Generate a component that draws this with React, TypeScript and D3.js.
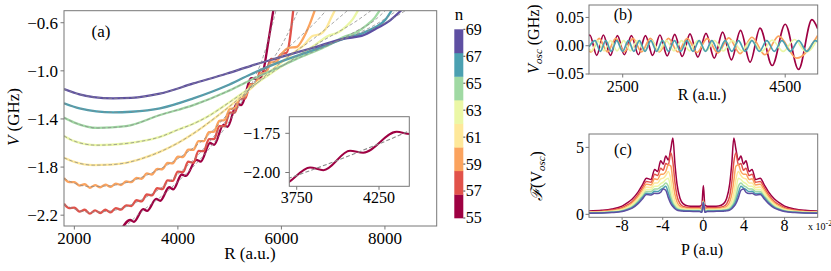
import * as d3 from "d3";

type Pt = [number, number];

// ---------- panel (a): V(R) per n ----------
const nValues = [55, 57, 59, 61, 63, 65, 67, 69];

const solid55: Pt[] = [[2880, -2.34], [3080, -2.24], [3150, -2.255], [3330, -2.15], [3405, -2.165], [3581, -2.065], [3660, -2.08], [3831, -1.968], [3912, -1.985], [4074, -1.862], [4154, -1.874], [4357, -1.74], [4440, -1.755], [4620, -1.6], [4700, -1.615], [4880, -1.45], [4960, -1.465], [5140, -1.27], [5220, -1.285], [5420, -1.06], [5560, -1.075], [5650, -1.0], [5750, -0.75], [5850, -0.48]];
const solid57: Pt[] = [[1800, -2.105], [1900, -2.142], [2000, -2.138], [2100, -2.17], [2200, -2.155], [2300, -2.187], [2400, -2.16], [2500, -2.182], [2600, -2.155], [2700, -2.177], [2800, -2.141], [2900, -2.154], [3000, -2.118], [3100, -2.124], [3200, -2.076], [3300, -2.085], [3400, -2.028], [3500, -2.036], [3600, -1.976], [3700, -1.984], [3800, -1.91], [3900, -1.915], [4000, -1.838], [4100, -1.842], [4200, -1.756], [4300, -1.764], [4400, -1.666], [4500, -1.668], [4600, -1.568], [4700, -1.568], [4800, -1.46], [4900, -1.46], [5000, -1.348], [5100, -1.348], [5200, -1.23], [5300, -1.23], [5400, -1.11], [5500, -1.11], [5600, -0.99], [5700, -1.0], [5800, -0.9], [5900, -0.905], [6000, -0.86], [6100, -0.85], [6230, -0.49]];
const solid59: Pt[] = [[1800, -1.89], [1900, -1.925], [2000, -1.925], [2100, -1.954], [2200, -1.943], [2300, -1.972], [2400, -1.95], [2500, -1.968], [2600, -1.946], [2700, -1.965], [2800, -1.937], [2900, -1.949], [3000, -1.92], [3100, -1.925], [3200, -1.89], [3300, -1.897], [3400, -1.853], [3500, -1.862], [3600, -1.815], [3700, -1.818], [3800, -1.765], [3900, -1.77], [4000, -1.714], [4100, -1.717], [4200, -1.655], [4300, -1.657], [4400, -1.585], [4500, -1.585], [4600, -1.51], [4700, -1.505], [4800, -1.415], [4900, -1.41], [5000, -1.32], [5100, -1.31], [5200, -1.22], [5300, -1.21], [5400, -1.12], [5500, -1.11], [5600, -1.023], [5700, -1.017], [5800, -0.93], [5900, -0.925], [6000, -0.86], [6130, -0.81], [6300, -0.8], [6420, -0.73], [6540, -0.62], [6650, -0.49]];
const solid61: Pt[] = [[1800, -1.723], [2000, -1.757], [2370, -1.784], [2700, -1.78], [3000, -1.765], [3300, -1.73], [3650, -1.674], [4000, -1.6], [4300, -1.521], [4750, -1.38], [5100, -1.26], [5400, -1.15], [5800, -1.0], [6200, -0.86], [6450, -0.78], [6600, -0.71], [6750, -0.695], [6860, -0.65], [6950, -0.57], [7040, -0.49]];
const solid63: Pt[] = [[1800, -1.541], [2000, -1.585], [2430, -1.618], [3000, -1.604], [3300, -1.585], [3655, -1.549], [4000, -1.49], [4300, -1.44], [4560, -1.384], [5000, -1.26], [5400, -1.14], [5800, -1.02], [6200, -0.91], [6600, -0.8], [6900, -0.71], [7100, -0.68], [7250, -0.63], [7380, -0.57], [7490, -0.49]];
const solid65: Pt[] = [[1800, -1.389], [2000, -1.43], [2450, -1.475], [3000, -1.46], [3655, -1.367], [4300, -1.285], [4940, -1.174], [5400, -1.078], [5900, -0.98], [6400, -0.88], [6900, -0.79], [7200, -0.72], [7450, -0.68], [7650, -0.62], [7800, -0.56], [7910, -0.49]];
const solid67: Pt[] = [[1800, -1.27], [2100, -1.312], [2750, -1.345], [3100, -1.34], [3655, -1.312], [4300, -1.229], [4940, -1.124], [5400, -1.03], [5950, -0.93], [6600, -0.83], [7230, -0.73], [7550, -0.69], [7800, -0.64], [8000, -0.58], [8140, -0.49]];
const solid69: Pt[] = [[1800, -1.152], [2100, -1.196], [2370, -1.218], [2750, -1.229], [3100, -1.225], [3650, -1.19], [4300, -1.105], [4950, -1.022], [5400, -0.96], [5950, -0.89], [6600, -0.81], [7230, -0.73], [7550, -0.71], [7870, -0.64], [8100, -0.58], [8330, -0.49]];

const dashed55: Pt[] = [[2880, -2.34], [3300, -2.17], [3705, -2.035], [4100, -1.88], [4432, -1.735], [4800, -1.54], [5100, -1.35], [5400, -1.13], [5650, -0.88], [5900, -0.49]];
const dashed57: Pt[] = [[1800, -2.11], [2000, -2.15], [2300, -2.175], [2700, -2.165], [3000, -2.13], [3300, -2.07], [3655, -1.98], [4000, -1.86], [4300, -1.74], [4650, -1.57], [4975, -1.39], [5300, -1.2], [5600, -1.02], [5900, -0.86], [6100, -0.71], [6330, -0.49]];
const dashed59: Pt[] = [[1800, -1.894], [2000, -1.935], [2300, -1.962], [2700, -1.955], [3000, -1.93], [3300, -1.885], [3655, -1.815], [4000, -1.73], [4300, -1.64], [4600, -1.53], [4878, -1.4], [5200, -1.24], [5500, -1.09], [5800, -0.95], [6100, -0.82], [6400, -0.7], [6650, -0.6], [6880, -0.49]];
const dashed61: Pt[] = [[1800, -1.723], [2000, -1.757], [2370, -1.784], [2700, -1.78], [3000, -1.765], [3300, -1.73], [3650, -1.674], [4000, -1.6], [4300, -1.521], [4750, -1.38], [5100, -1.26], [5400, -1.15], [5800, -1.0], [6200, -0.86], [6600, -0.74], [7000, -0.6], [7300, -0.49]];
const dashed63: Pt[] = [[1800, -1.541], [2000, -1.585], [2430, -1.618], [3000, -1.604], [3300, -1.585], [3655, -1.549], [4000, -1.49], [4300, -1.44], [4560, -1.384], [5000, -1.26], [5400, -1.14], [5800, -1.02], [6200, -0.91], [6600, -0.8], [7000, -0.7], [7400, -0.6], [7760, -0.49]];
const dashed65: Pt[] = [[1800, -1.389], [2000, -1.43], [2450, -1.475], [3000, -1.46], [3655, -1.367], [4300, -1.285], [4940, -1.174], [5400, -1.078], [5900, -0.98], [6400, -0.88], [6900, -0.79], [7400, -0.68], [7800, -0.58], [8030, -0.49]];
const dashed67: Pt[] = [[1800, -1.27], [2100, -1.312], [2750, -1.345], [3100, -1.34], [3655, -1.312], [4300, -1.229], [4940, -1.124], [5400, -1.03], [5950, -0.93], [6600, -0.83], [7230, -0.73], [7800, -0.62], [8260, -0.49]];
const dashed69: Pt[] = [[1800, -1.152], [2100, -1.196], [2370, -1.218], [2750, -1.229], [3100, -1.225], [3650, -1.19], [4300, -1.105], [4950, -1.022], [5400, -0.96], [5950, -0.89], [6600, -0.81], [7230, -0.73], [7870, -0.63], [8430, -0.49]];

const solidCurves = [solid55, solid57, solid59, solid61, solid63, solid65, solid67, solid69];
const dashedCurves = [dashed55, dashed57, dashed59, dashed61, dashed63, dashed65, dashed67, dashed69];

const aYTicks = [-0.6, -1.0, -1.4, -1.8, -2.2];
const aXTicks = [2000, 4000, 6000, 8000];
const insetYTicks = [-1.75, -2.0];
const insetXTicks = [3750, 4250];
const cbTicks = [55, 57, 59, 61, 63, 65, 67, 69];

// ---------- panel (b): V_osc(R) for n = 55, 59, 63, 67 ----------
const oscN = [55, 59, 63, 67];
const osc55: Pt[] = [[2085, 0.017], [2095, 0.019], [2180, -0.017], [2262, 0.019], [2348, -0.017], [2435, 0.018], [2520, -0.016], [2607, 0.018], [2693, -0.016], [2780, 0.018], [2868, -0.017], [2958, 0.019], [3048, -0.018], [3140, 0.02], [3233, -0.019], [3328, 0.021], [3425, -0.02], [3525, 0.022], [3627, -0.022], [3730, 0.024], [3838, -0.025], [3950, 0.027], [4068, -0.029], [4190, 0.031], [4340, -0.035], [4500, 0.038], [4664, -0.042], [4829, 0.046], [4900, 0.03]];
const osc59: Pt[] = [[2085, -0.009], [2110, -0.011], [2210, 0.013], [2312, -0.011], [2415, 0.013], [2520, -0.011], [2625, 0.013], [2732, -0.011], [2840, 0.013], [2950, -0.011], [3063, 0.013], [3178, -0.011], [3295, 0.013], [3415, -0.012], [3540, 0.013], [3670, -0.013], [3805, 0.014], [3945, -0.014], [4090, 0.015], [4250, -0.016], [4420, 0.017], [4640, -0.022], [4900, 0.018]];
const osc63: Pt[] = [[2085, -0.006], [2115, -0.009], [2192, 0.009], [2270, -0.009], [2350, 0.009], [2430, -0.009], [2512, 0.009], [2595, -0.009], [2680, 0.009], [2767, -0.009], [2855, 0.009], [2945, -0.009], [3037, 0.009], [3130, -0.009], [3225, 0.009], [3323, -0.009], [3423, 0.009], [3525, -0.009], [3630, 0.009], [3738, -0.009], [3850, 0.009], [3965, -0.009], [4085, 0.01], [4210, -0.01], [4340, 0.01], [4475, -0.01], [4615, 0.011], [4760, -0.011], [4900, 0.012]];
const osc67: Pt[] = [[2085, -0.002], [2159, 0.009], [2225, -0.01], [2291, 0.009], [2358, -0.01], [2426, 0.009], [2498, -0.01], [2570, 0.009], [2637, -0.01], [2705, 0.009], [2775, -0.01], [2845, 0.009], [2917, -0.01], [2989, 0.009], [3063, -0.01], [3137, 0.009], [3213, -0.01], [3289, 0.009], [3365, -0.01], [3441, 0.009], [3519, -0.01], [3597, 0.009], [3679, -0.01], [3761, 0.009], [3843, -0.01], [3925, 0.009], [4007, -0.01], [4090, 0.009], [4182, -0.01], [4274, 0.009], [4366, -0.01], [4459, 0.009], [4562, -0.01], [4665, 0.009], [4767, -0.01], [4870, 0.009], [4900, 0.007]];
const oscCurves = [osc55, osc59, osc63, osc67];
const bYTicks = [-0.05, 0, 0.05];
const bYLabels = ["\u22120.05", "0.00", "0.05"];
const bXTicks = [2500, 4500];

// ---------- panel (c): spectrum, half profile (P >= 0, units of 1e-2) ----------
const pHalf = [0, 0.15, 0.4, 1, 1.5, 2, 2.3, 2.6, 2.8, 3.0, 3.2, 3.45, 3.7, 3.95, 4.2, 4.5, 4.8, 5.15, 5.6, 6.0, 6.4, 7.0, 7.5, 8.0, 9.0, 10.0, 11.3];
const spec55 = [2.15, 0.7, 0.6, 0.6, 0.62, 0.8, 1.2, 2.3, 3.8, 5.7, 4.9, 4.05, 4.35, 3.75, 4.0, 3.2, 3.35, 2.6, 2.7, 2.2, 1.7, 1.15, 0.85, 0.62, 0.4, 0.3, 0.25];
const spec57 = [1.05, 0.45, 0.5, 0.5, 0.52, 0.6, 0.8, 1.4, 2.4, 3.9, 4.6, 3.7, 3.8, 3.3, 3.45, 2.9, 3.0, 2.4, 2.45, 2.0, 1.5, 0.95, 0.7, 0.5, 0.32, 0.24, 0.2];
const spec59 = [1.0, 0.35, 0.42, 0.42, 0.44, 0.5, 0.6, 0.95, 1.5, 2.5, 3.6, 3.7, 3.2, 3.0, 3.0, 2.6, 2.65, 2.2, 2.25, 1.8, 1.35, 0.85, 0.6, 0.42, 0.27, 0.2, 0.17];
const spec61 = [0.98, 0.3, 0.36, 0.36, 0.38, 0.42, 0.48, 0.7, 1.0, 1.6, 2.6, 3.2, 2.9, 2.7, 2.65, 2.35, 2.35, 2.0, 2.05, 1.65, 1.2, 0.75, 0.52, 0.36, 0.23, 0.17, 0.15];
const spec63 = [0.95, 0.25, 0.32, 0.32, 0.33, 0.36, 0.4, 0.55, 0.75, 1.1, 1.8, 2.7, 2.6, 2.4, 2.3, 2.1, 2.1, 1.85, 1.85, 1.5, 1.1, 0.65, 0.45, 0.31, 0.2, 0.15, 0.13];
const spec65 = [0.93, 0.2, 0.28, 0.28, 0.29, 0.31, 0.34, 0.45, 0.6, 0.85, 1.3, 2.1, 2.35, 2.15, 2.05, 1.9, 1.9, 1.7, 1.7, 1.35, 1.0, 0.58, 0.4, 0.27, 0.17, 0.13, 0.11];
const spec67 = [0.9, 0.18, 0.25, 0.25, 0.26, 0.28, 0.3, 0.38, 0.5, 0.7, 1.0, 1.6, 2.1, 1.95, 1.85, 1.7, 1.72, 1.55, 1.58, 1.25, 0.9, 0.52, 0.35, 0.24, 0.15, 0.11, 0.1];
const spec69 = [0.88, 0.15, 0.22, 0.22, 0.23, 0.24, 0.26, 0.32, 0.42, 0.58, 0.8, 1.25, 1.8, 1.9, 1.65, 1.55, 1.58, 1.45, 1.48, 1.15, 0.82, 0.47, 0.32, 0.21, 0.13, 0.1, 0.09];
const specCurves = [spec55, spec57, spec59, spec61, spec63, spec65, spec67, spec69];
const cYTicks = [0, 5];
const cXTicks = [-8, -4, 0, 4, 8];
const cXLabels = ["-8", "-4", "0", "4", "8"];

// ---------- layout ----------
const FONT = "'Liberation Serif', 'DejaVu Serif', serif";
const AXIS = "#777";
const DASH = "#8a8a8a";
const colorOf = (n: number) => d3.interpolateSpectral((n - 55) / 14);
const minus = (s: string) => s.replace("-", "\u2212");

const pA = { l: 64, r: 436.7, t: 10.7, b: 226 };
const pI = { l: 289.3, r: 409.3, t: 116.7, b: 186.3 };
const pB = { l: 589, r: 817.7, t: 5, b: 74 };
const pC = { l: 589, r: 817.7, t: 134, b: 217.3 };
const cb = { l: 454.3, r: 463.3, t: 29.3, b: 218 };

const xA = d3.scaleLinear().domain([1800, 9000]).range([pA.l, pA.r]);
const yA = d3.scaleLinear().domain([-2.29, -0.5]).range([pA.b, pA.t]);
const xI = d3.scaleLinear().domain([3705, 4434]).range([pI.l, pI.r]);
const yI = d3.scaleLinear().domain([-2.088, -1.644]).range([pI.b, pI.t]);
const xB = d3.scaleLinear().domain([2085, 4900]).range([pB.l, pB.r]);
const yB = d3.scaleLinear().domain([-0.05, 0.072]).range([pB.b, pB.t]);
const xC = d3.scaleLinear().domain([-11.26, 11.26]).range([pC.l, pC.r]);
const yC = d3.scaleLinear().domain([-0.22, 6]).range([pC.b, pC.t]);
const yCb = d3.scaleLinear().domain([55, 69]).range([cb.b, cb.t]);

const mkLine = (x: d3.ScaleLinear<number, number>, y: d3.ScaleLinear<number, number>) =>
  d3.line<Pt>().x((d) => x(d[0])).y((d) => y(d[1])).curve(d3.curveMonotoneX);

const lineA = mkLine(xA, yA);
const lineI = mkLine(xI, yI);
const lineB = mkLine(xB, yB);
const lineC = mkLine(xC, yC);

const mirror = (vals: number[]): Pt[] => {
  const neg: Pt[] = pHalf.slice(1).map((p, i) => [-p, vals[i + 1]] as Pt).reverse();
  const pos: Pt[] = pHalf.map((p, i) => [p, vals[i]] as Pt);
  return [...neg, ...pos];
};

const Frame = ({ p }: { p: { l: number; r: number; t: number; b: number } }) => (
  <rect x={p.l} y={p.t} width={p.r - p.l} height={p.b - p.t} fill="none" stroke={AXIS} strokeWidth={1} />
);

const LeftTicks = ({ scale, values, labels, x, size, gap = 6, len = 3.5 }: any) => (
  <g>
    {values.map((v: number, i: number) => (
      <g key={i}>
        <line x1={x - len} x2={x} y1={scale(v)} y2={scale(v)} stroke={AXIS} />
        <text x={x - gap} y={scale(v)} dy="0.34em" textAnchor="end" fontSize={size}>{labels[i]}</text>
      </g>
    ))}
  </g>
);

const BottomTicks = ({ scale, values, labels, y, size, off, len = 3.5 }: any) => (
  <g>
    {values.map((v: number, i: number) => (
      <g key={i}>
        <line x1={scale(v)} x2={scale(v)} y1={y} y2={y + len} stroke={AXIS} />
        <text x={scale(v)} y={y + off} textAnchor="middle" fontSize={size}>{labels[i]}</text>
      </g>
    ))}
  </g>
);

export default function App() {
  return (
    <svg width={831} height={271} style={{ position: "absolute", left: 0, top: 0, background: "#fff" }} fontFamily={FONT}>
      <defs>
        <clipPath id="clipA"><rect x={pA.l} y={pA.t} width={pA.r - pA.l} height={pA.b - pA.t} /></clipPath>
        <clipPath id="clipI"><rect x={pI.l} y={pI.t} width={pI.r - pI.l} height={pI.b - pI.t} /></clipPath>
        <clipPath id="clipB"><rect x={pB.l} y={pB.t} width={pB.r - pB.l} height={pB.b - pB.t} /></clipPath>
        <clipPath id="clipC"><rect x={pC.l} y={pC.t} width={pC.r - pC.l} height={pC.b - pC.t} /></clipPath>
      </defs>
      <rect width={831} height={271} fill="#fff" />

      {/* panel (a) */}
      <g clipPath="url(#clipA)">
        {solidCurves.map((c, i) => (
          <path key={i} d={lineA(c) ?? ""} fill="none" stroke={colorOf(nValues[i])} strokeWidth={2.3} />
        ))}
        {dashedCurves.map((c, i) => (
          <path key={i} d={lineA(c) ?? ""} fill="none" stroke={DASH} strokeOpacity={0.85} strokeWidth={0.9} strokeDasharray="3.5,2.2" />
        ))}
      </g>
      <Frame p={pA} />
      <LeftTicks scale={yA} values={aYTicks} labels={aYTicks.map((v) => minus(v.toFixed(1)))} x={pA.l} size={17} />
      <BottomTicks scale={xA} values={aXTicks} labels={aXTicks.map(String)} y={pA.b} size={17} off={17.5} />
      <text x={101} y={37} textAnchor="middle" fontSize={17}>(a)</text>
      <text x={250} y={259} textAnchor="middle" fontSize={17}>R (a.u.)</text>
      <text transform="translate(19,117) rotate(-90)" textAnchor="middle" fontSize={17}>
        <tspan fontStyle="italic">V</tspan> (GHz)
      </text>

      {/* inset */}
      <rect x={pI.l} y={pI.t} width={pI.r - pI.l} height={pI.b - pI.t} fill="#fff" />
      <g clipPath="url(#clipI)">
        <path d={lineI(solid55) ?? ""} fill="none" stroke={colorOf(55)} strokeWidth={2} />
        <path d={lineI(dashed55) ?? ""} fill="none" stroke={DASH} strokeWidth={1.1} strokeDasharray="4,2.2" />
      </g>
      <Frame p={pI} />
      <LeftTicks scale={yI} values={insetYTicks} labels={insetYTicks.map((v) => minus(v.toFixed(2)))} x={pI.l} size={16} gap={9} len={4} />
      <BottomTicks scale={xI} values={insetXTicks} labels={insetXTicks.map(String)} y={pI.b} size={16} off={16.5} />

      {/* colorbar */}
      {nValues.map((n, i) => (
        <rect key={n} x={cb.l} y={yCb(55 + (i + 1) * 1.75)} width={cb.r - cb.l} height={yCb(55 + i * 1.75) - yCb(55 + (i + 1) * 1.75) + 0.3} fill={colorOf(n)} />
      ))}
      {cbTicks.map((v) => (
        <g key={v}>
          <line x1={cb.r} x2={cb.r + 2} y1={yCb(v)} y2={yCb(v)} stroke="#444" />
          <text x={cb.r + 2.5} y={yCb(v)} dy="0.34em" fontSize={16}>{v}</text>
        </g>
      ))}
      <text x={459} y={20} textAnchor="middle" fontSize={17}>n</text>

      {/* panel (b) */}
      <g clipPath="url(#clipB)">
        {oscCurves.map((c, i) => (
          <path key={i} d={lineB(c) ?? ""} fill="none" stroke={colorOf(oscN[i])} strokeWidth={1.7} />
        ))}
      </g>
      <Frame p={pB} />
      <LeftTicks scale={yB} values={bYTicks} labels={bYLabels} x={pB.l} size={16} gap={5} />
      <BottomTicks scale={xB} values={bXTicks} labels={bXTicks.map(String)} y={pB.b} size={16} off={17.5} />
      <text x={623} y={20} textAnchor="middle" fontSize={16}>(b)</text>
      <text x={702} y={100} textAnchor="middle" fontSize={16}>R (a.u.)</text>
      <text transform="translate(539,39) rotate(-90)" textAnchor="middle" fontSize={16}>
        <tspan fontStyle="italic">V</tspan>
        <tspan fontStyle="italic" fontSize={11} dy={3}>osc</tspan>
        <tspan dy={-3}> (GHz)</tspan>
      </text>

      {/* panel (c) */}
      <g clipPath="url(#clipC)">
        {specCurves.map((s, i) => (
          <path key={i} d={lineC(mirror(s)) ?? ""} fill="none" stroke={colorOf(nValues[i])} strokeWidth={1.5} />
        ))}
      </g>
      <Frame p={pC} />
      <LeftTicks scale={yC} values={cYTicks} labels={cYTicks.map(String)} x={pC.l} size={16} gap={5} />
      <BottomTicks scale={xC} values={cXTicks} labels={cXLabels} y={pC.b} size={16} off={14} len={2.5} />
      <text x={623} y={155} textAnchor="middle" fontSize={16}>(c)</text>
      <text x={702} y={255} textAnchor="middle" fontSize={16}>P (a.u)</text>
      <text x={808} y={230} fontSize={10}>
        x 10<tspan fontSize={8} dy={-4}>-2</tspan>
      </text>
      <text transform="translate(542,176) rotate(-90)" textAnchor="middle" fontSize={16}>
        <tspan fontStyle="italic">ℱ</tspan>(V<tspan fontStyle="italic" fontSize={11} dy={3}>osc</tspan>
        <tspan dy={-3}>)</tspan>
      </text>
    </svg>
  );
}
